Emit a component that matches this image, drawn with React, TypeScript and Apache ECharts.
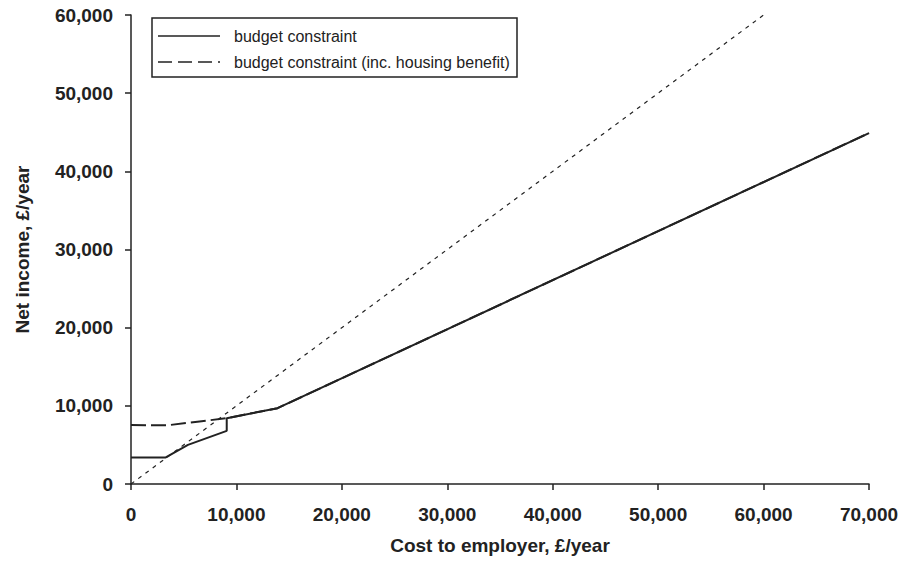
import React, { useEffect, useRef } from "react";
import * as echarts from "echarts";

const xTicks = [0, 10000, 20000, 30000, 40000, 50000, 60000, 70000];
const yTicks = [0, 10000, 20000, 30000, 40000, 50000, 60000];

const budgetConstraint: [number, number][] = [
  [0, 3400],
  [3300, 3400],
  [5400, 5000],
  [9080, 6800],
  [9080, 8420],
  [13900, 9700],
  [70000, 44900],
];

const budgetHousing: [number, number][] = [
  [0, 7550],
  [3400, 7500],
  [6500, 8000],
  [9080, 8420],
  [13900, 9700],
  [70000, 44900],
];

const equalityLine: [number, number][] = [
  [0, 0],
  [60000, 60000],
];

const legendLabels = ["budget constraint", "budget constraint (inc. housing benefit)"];
const xTitle = "Cost to employer, £/year";
const yTitle = "Net income, £/year";

export default function App() {
  const ref = useRef<HTMLDivElement>(null);
  useEffect(() => {
    if (!ref.current) return;
    const chart = echarts.init(ref.current, undefined, { renderer: "svg" });
    const font = "'Liberation Sans', Arial, sans-serif";
    const fmt = (v: number) => v.toLocaleString("en-US");
    const ink = "#222";
    chart.setOption({
      animation: false,
      backgroundColor: "#ffffff",
      grid: { left: 131, right: 38, top: 15, bottom: 85, containLabel: false },
      xAxis: {
        type: "value",
        min: xTicks[0],
        max: xTicks[xTicks.length - 1],
        interval: 10000,
        name: xTitle,
        nameLocation: "middle",
        nameGap: 52,
        nameTextStyle: { fontFamily: font, fontWeight: "bold", fontSize: 19, color: ink },
        axisLine: { show: true, onZero: false, lineStyle: { color: ink, width: 1.5 } },
        axisTick: { show: true, length: 6, lineStyle: { color: ink, width: 1.5 } },
        axisLabel: { formatter: fmt, fontFamily: font, fontWeight: "bold", fontSize: 19, color: ink, margin: 21 },
        splitLine: { show: false },
      },
      yAxis: {
        type: "value",
        min: yTicks[0],
        max: yTicks[yTicks.length - 1],
        interval: 10000,
        name: yTitle,
        nameLocation: "middle",
        nameGap: 99,
        nameTextStyle: { fontFamily: font, fontWeight: "bold", fontSize: 19, color: ink },
        axisLine: { show: true, lineStyle: { color: ink, width: 1.5 } },
        axisTick: { show: true, length: 6, lineStyle: { color: ink, width: 1.5 } },
        axisLabel: { formatter: fmt, fontFamily: font, fontWeight: "bold", fontSize: 19, color: ink, margin: 18 },
        splitLine: { show: false },
      },
      series: [
        {
          type: "line",
          data: equalityLine,
          showSymbol: false,
          lineStyle: { color: ink, width: 1.2, type: [4, 5] },
          z: 1,
        },
        {
          type: "line",
          name: legendLabels[1],
          data: budgetHousing,
          showSymbol: false,
          lineStyle: { color: ink, width: 2, type: [15, 5] },
          z: 2,
        },
        {
          type: "line",
          name: legendLabels[0],
          data: budgetConstraint,
          showSymbol: false,
          lineStyle: { color: ink, width: 2 },
          z: 3,
        },
      ],
      graphic: [
        {
          type: "rect",
          shape: { x: 152, y: 18, width: 365, height: 59 },
          style: { fill: "#fff", stroke: ink, lineWidth: 1.5 },
          z: 10,
        },
        {
          type: "line",
          shape: { x1: 158, y1: 36, x2: 220, y2: 36 },
          style: { stroke: ink, lineWidth: 1.5 },
          z: 11,
        },
        {
          type: "line",
          shape: { x1: 158, y1: 62, x2: 220, y2: 62 },
          style: { stroke: ink, lineWidth: 1.5, lineDash: [14, 6] },
          z: 11,
        },
        {
          type: "text",
          x: 234,
          y: 36,
          style: { text: legendLabels[0], font: `16px ${font}`, fill: ink, verticalAlign: "middle" },
          z: 11,
        },
        {
          type: "text",
          x: 234,
          y: 62,
          style: { text: legendLabels[1], font: `16px ${font}`, fill: ink, verticalAlign: "middle" },
          z: 11,
        },
      ],
    });
    return () => chart.dispose();
  }, []);
  return (
    <div
      ref={ref}
      style={{ position: "fixed", left: 0, top: 0, width: 907, height: 569, background: "#fff" }}
    />
  );
}
